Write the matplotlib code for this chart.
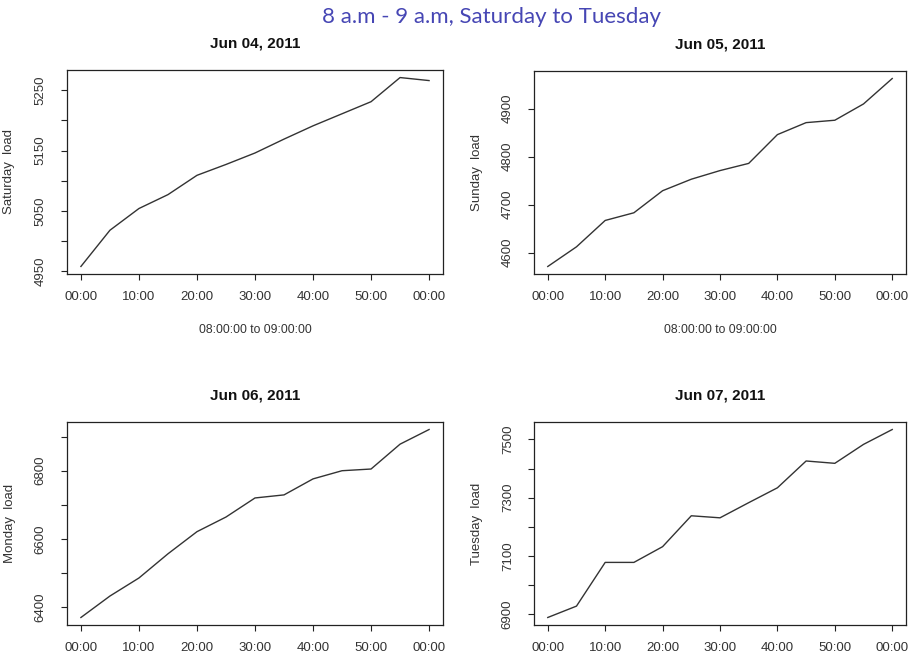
import matplotlib
matplotlib.use("Agg")
import matplotlib.pyplot as plt
import numpy as np

plt.rcParams['font.family'] = ['Liberation Sans', 'DejaVu Sans']

minutes = [0, 5, 10, 15, 20, 25, 30, 35, 40, 45, 50, 55, 60]
xtick_pos = [0, 10, 20, 30, 40, 50, 60]
xtick_labels = ["00:00", "10:00", "20:00", "30:00", "40:00", "50:00", "00:00"]

saturday = [4958, 5018, 5054, 5077, 5109, 5127, 5146, 5169, 5191, 5211, 5231, 5271, 5266]
sunday = [4571, 4612, 4667, 4683, 4729, 4753, 4771, 4786, 4846, 4871, 4876, 4910, 4963]
monday = [6369, 6432, 6485, 6556, 6621, 6664, 6720, 6729, 6776, 6800, 6805, 6878, 6921]
tuesday = [6889, 6928, 7078, 7078, 7132, 7238, 7231, 7283, 7334, 7426, 7418, 7483, 7534]

titles = ["Jun 04, 2011", "Jun 05, 2011", "Jun 06, 2011", "Jun 07, 2011"]
ylabels = ["Saturday  load", "Sunday  load", "Monday  load", "Tuesday  load"]
xlabel = "08:00:00 to 09:00:00"
suptitle = "8 a.m - 9 a.m, Saturday to Tuesday"

yticks = [
    ([4950, 5000, 5050, 5100, 5150, 5200, 5250], [4950, 5050, 5150, 5250]),
    ([4600, 4700, 4800, 4900], [4600, 4700, 4800, 4900]),
    ([6400, 6500, 6600, 6700, 6800, 6900], [6400, 6600, 6800]),
    ([6900, 7000, 7100, 7200, 7300, 7400, 7500], [6900, 7100, 7300, 7500]),
]

W, H = 910, 660
fig = plt.figure(figsize=(9.1, 6.6), dpi=100)

# axes boxes in pixels: left, top, right, bottom
boxes = [(67, 70, 443, 274), (534, 71, 906, 274), (67, 422, 443, 625), (534, 422, 906, 625)]
series = [saturday, sunday, monday, tuesday]
ylab_x = [15, 483, 16, 483]

for i, (box, data) in enumerate(zip(boxes, series)):
    l, t, r, b = box
    ax = fig.add_axes([l / W, 1 - b / H, (r - l) / W, (b - t) / H])
    ax.plot(minutes, data, color='#333333', lw=1.0)
    x0, x1 = min(minutes), max(minutes)
    dx = (x1 - x0) * 0.04
    ax.set_xlim(x0 - dx, x1 + dx)
    y0, y1 = min(data), max(data)
    dy = (y1 - y0) * 0.04
    ax.set_ylim(y0 - dy, y1 + dy)
    ax.set_xticks(xtick_pos)
    ax.set_xticklabels(xtick_labels)
    major, labeled = yticks[i]
    ax.set_yticks(major)
    ax.set_yticklabels([str(v) if v in labeled else "" for v in major],
                       rotation=90, va='center')
    ax.tick_params(axis='both', direction='out', length=4.5, width=0.8,
                   colors='#222222', labelcolor='#333333', labelsize=9.5)
    ax.tick_params(axis='x', pad=8)
    ax.tick_params(axis='y', pad=10)
    for s in ax.spines.values():
        s.set_color('#222222')
        s.set_linewidth(0.9)
    ax.set_title(titles[i], fontsize=11, fontweight='bold', pad=16, color='#111111')
    ax.set_ylabel(ylabels[i], fontsize=9.5, color='#333333')
    ax.yaxis.set_label_coords((ylab_x[i] - l) / (r - l), 0.5)
    if i < 2:
        ax.set_xlabel(xlabel, fontsize=8.7, color='#333333')
        ax.xaxis.set_label_coords(0.5, -(324 - b) / (b - t))

fig.text(492 / W, 1 - 17 / H, suptitle, ha='center', va='center',
         fontsize=16, color='#4646b4', family=['Lato', 'DejaVu Sans'])

fig.savefig("out.png", dpi=100)
